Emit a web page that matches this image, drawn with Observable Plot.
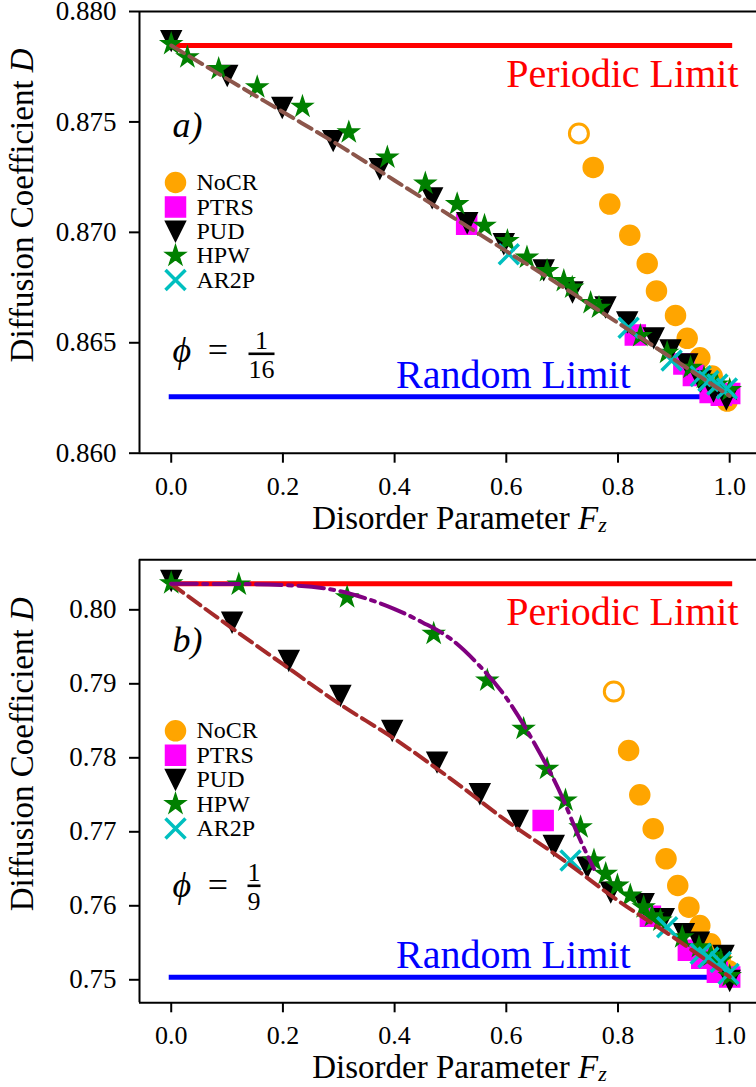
<!DOCTYPE html>
<html><head><meta charset="utf-8">
<script src="https://cdn.jsdelivr.net/npm/d3@7"></script>
<script src="https://cdn.jsdelivr.net/npm/@observablehq/plot@0.6"></script>
<style>
body{margin:0;background:#fff;}
#wrap{position:relative;width:756px;height:1087px;overflow:hidden;background:#fff;}
#wrap svg{position:absolute;left:0;}
</style></head><body><div id="wrap"></div>
<script>
// ---------- data ----------
const xTicks = [0, 0.2, 0.4, 0.6, 0.8, 1.0];
const topYTicks = [0.860, 0.865, 0.870, 0.875, 0.880];
const botYTicks = [0.75, 0.76, 0.77, 0.78, 0.79, 0.80];
const legendNames = ["NoCR", "PTRS", "PUD", "HPW", "AR2P"];
const limitX = [0, 1];

// panel a) phi = 1/16
const topPeriodic = 0.87846;
const topRandom = 0.86256;
const topNoCROpenX = [0.730];
const topNoCROpenY = [0.87448];
const topNoCRX = [0.7556, 0.7853, 0.8211, 0.8523, 0.8689, 0.9030, 0.9239, 0.9465, 0.9687, 0.9955];
const topNoCRY = [0.87294, 0.87128, 0.86987, 0.86859, 0.86735, 0.86624, 0.86520, 0.86432, 0.86349, 0.86236];
const topPTRSX = [0.529, 0.831, 0.918, 0.935, 0.965, 0.985, 1.0];
const topPTRSY = [0.87037, 0.86535, 0.86404, 0.86352, 0.86275, 0.86262, 0.86270];
const topPUDX = [0, 0.1003, 0.1988, 0.290, 0.3735, 0.4673, 0.530, 0.5955, 0.667, 0.7185, 0.7776, 0.8165, 0.864, 0.894, 0.924, 0.948, 0.971, 0.994];
const topPUDY = [0.87868, 0.87710, 0.87565, 0.87415, 0.87288, 0.87156, 0.87043, 0.86948, 0.86830, 0.86730, 0.86662, 0.86594, 0.86522, 0.86467, 0.86404, 0.86327, 0.86281, 0.86245];
const topHPWX = [0, 0.029, 0.085, 0.154, 0.235, 0.318, 0.387, 0.455, 0.512, 0.561, 0.602, 0.637, 0.673, 0.703, 0.718, 0.751, 0.766, 0.840, 0.888, 0.930, 0.954, 0.977, 1.0];
const topHPWY = [0.87853, 0.87793, 0.87740, 0.87657, 0.87569, 0.87453, 0.87339, 0.87221, 0.87128, 0.87030, 0.86961, 0.86886, 0.86825, 0.86780, 0.86750, 0.86680, 0.86659, 0.86531, 0.86455, 0.86387, 0.86342, 0.86311, 0.86286];
const topAR2PX = [0.6045, 0.819, 0.896, 0.948, 0.962, 0.978, 0.995];
const topAR2PY = [0.86901, 0.86568, 0.86420, 0.86349, 0.86327, 0.86311, 0.86293];
const topFitX = [0, 0.1, 0.2, 0.3, 0.4, 0.5, 0.6, 0.7, 0.8, 0.9, 1.0];
const topFitY = [0.87846, 0.87695, 0.87545, 0.87395, 0.87235, 0.87075, 0.86915, 0.86755, 0.86590, 0.86425, 0.86259];

// panel b) phi = 1/9
const botPeriodic = 0.80351;
const botRandom = 0.75035;
const botNoCROpenX = [0.7925];
const botNoCROpenY = [0.78896];
const botNoCRX = [0.819, 0.839, 0.863, 0.886, 0.907, 0.927, 0.9465, 0.9656, 0.9835, 0.998];
const botNoCRY = [0.78099, 0.77500, 0.77041, 0.76635, 0.76274, 0.75981, 0.75734, 0.75486, 0.75305, 0.75123];
const botPTRSX = [0.666, 0.858, 0.926, 0.950, 0.978, 1.0];
const botPTRSY = [0.77153, 0.75858, 0.75400, 0.75290, 0.75103, 0.75036];
const botPUDX = [0, 0.109, 0.2106, 0.303, 0.3957, 0.476, 0.5526, 0.6206, 0.685, 0.745, 0.787, 0.846, 0.882, 0.918, 0.945, 0.989, 1.0];
const botPUDY = [0.80396, 0.79832, 0.79315, 0.78842, 0.78369, 0.77941, 0.77514, 0.77153, 0.76815, 0.76522, 0.76184, 0.76027, 0.75824, 0.75622, 0.75508, 0.75328, 0.74991];
const botHPWX = [0, 0.121, 0.315, 0.470, 0.566, 0.631, 0.673, 0.706, 0.733, 0.757, 0.778, 0.799, 0.822, 0.846, 0.861, 0.876, 0.915, 0.945, 0.966, 0.984, 1.0];
const botHPWY = [0.80360, 0.80342, 0.80170, 0.79676, 0.79045, 0.78392, 0.77851, 0.77423, 0.77062, 0.76612, 0.76432, 0.76274, 0.76139, 0.75981, 0.75860, 0.75801, 0.75576, 0.75441, 0.75328, 0.75261, 0.75050];
const botAR2PX = [0.715, 0.888, 0.948, 0.962, 0.984, 0.998];
const botAR2PY = [0.76612, 0.75711, 0.75351, 0.75300, 0.75240, 0.75080];
const botFitX = [0, 0.1, 0.2, 0.3, 0.4, 0.5, 0.6, 0.7, 0.8, 0.9, 1.0];
const botFitY = [0.80350, 0.79800, 0.79265, 0.78735, 0.78255, 0.77720, 0.77150, 0.76630, 0.76070, 0.75570, 0.75040];
const botHPWFitX = [0, 0.1, 0.2, 0.3, 0.35, 0.4, 0.45, 0.5, 0.55, 0.6, 0.65, 0.7, 0.73, 0.757];
const botHPWFitY = [0.80351, 0.80350, 0.80335, 0.80255, 0.80150, 0.80010, 0.79830, 0.79610, 0.79260, 0.78810, 0.78200, 0.77470, 0.76930, 0.76500];

// ---------- helpers ----------
const zip = (xs, ys) => xs.map((x, i) => ({x, y: ys[i]}));
const FONT = "'Liberation Serif', 'DejaVu Serif', serif";
const colors = {NoCR: "#ffa500", PTRS: "#ff00ff", PUD: "#000000", HPW: "#008000", AR2P: "#00bfbf"};
const sqSym = {draw(c, size) {const s = Math.sqrt(size / Math.PI); c.rect(-s, -s, 2 * s, 2 * s);}};
const triSym = {draw(c, size) {const s = Math.sqrt(size / Math.PI); c.moveTo(-s, -s); c.lineTo(s, -s); c.lineTo(0, s); c.closePath();}};
const starSym = {draw(c, size) {
  const s = Math.sqrt(size / Math.PI) * 1.05, ri = s * 0.382;
  for (let i = 0; i < 10; i++) {
    const a = -Math.PI / 2 + i * Math.PI / 5, rr = i % 2 ? ri : s;
    const px = rr * Math.cos(a), py = rr * Math.sin(a);
    i ? c.lineTo(px, py) : c.moveTo(px, py);
  }
  c.closePath();
}};
const xSym = {draw(c, size) {const s = Math.sqrt(size / Math.PI); c.moveTo(-s, -s); c.lineTo(s, s); c.moveTo(-s, s); c.lineTo(s, -s);}};
const symbols = {NoCR: "circle", PTRS: sqSym, PUD: triSym, HPW: starSym, AR2P: xSym};

function markerOpts(name) {
  const c = colors[name];
  if (name === "AR2P") return {symbol: xSym, r: 10, fill: "none", stroke: c, strokeWidth: 3.5};
  return {symbol: symbols[name], r: 10, fill: c, stroke: c, strokeWidth: 1.5};
}

const X_DOMAIN = [-0.0568, 1.048];

function panel(cfg) {
  const series = cfg.series;
  const marks = [
    Plot.ruleX([X_DOMAIN[0]], {stroke: "black", strokeWidth: 2}),
    Plot.ruleY(cfg.yDomain, {stroke: "black", strokeWidth: 2}),
    Plot.line(limitX.map(x => ({x, y: cfg.periodic})), {x: "x", y: "y", stroke: "#ff0000", strokeWidth: 5, strokeLinecap: "square"}),
    Plot.line(limitX.map(x => ({x, y: cfg.random})), {x: "x", y: "y", stroke: "#0000ff", strokeWidth: 5, strokeLinecap: "square"}),
    Plot.dot(cfg.open, {x: "x", y: "y", r: 9.5, fill: "white", stroke: colors.NoCR, strokeWidth: 3}),
  ];
  for (const name of legendNames) {
    marks.push(Plot.dot(series[name], {x: "x", y: "y", ...markerOpts(name)}));
  }
  for (const f of cfg.fits) {
    marks.push(Plot.line(f.data, {x: "x", y: "y", stroke: f.color, strokeWidth: 4, strokeDasharray: f.dash, curve: "monotone-x"}));
  }
  legendNames.forEach((name, i) => {
    marks.push(Plot.dot([name], {frameAnchor: "top-left", dx: 36, dy: 171 + 24.4 * i, ...markerOpts(name)}));
    marks.push(Plot.text([name], {frameAnchor: "top-left", dx: 57, dy: 171 + 24.4 * i, text: d => d, textAnchor: "start", lineAnchor: "middle", fontSize: 24}));
  });
  marks.push(Plot.text([cfg.periodic], {y: d => d, frameAnchor: "right", dx: -18, dy: 41, text: () => "Periodic Limit", textAnchor: "end", lineAnchor: "bottom", fill: "#ff0000", fontSize: 40}));
  marks.push(Plot.text([cfg.random], {y: d => d, frameAnchor: "left", dx: 491, dy: -9, text: () => "Random Limit", textAnchor: "end", lineAnchor: "bottom", fill: "#0000ff", fontSize: 40}));
  marks.push(Plot.text([cfg.tag], {frameAnchor: "top-left", dx: 33, dy: cfg.tagDy, text: d => d, fontStyle: "italic", textAnchor: "start", lineAnchor: "bottom", fontSize: 36}));
  marks.push(Plot.text(["ϕ"], {frameAnchor: "top-left", dx: 33, dy: cfg.phiDy, text: d => d, fontStyle: "italic", textAnchor: "start", lineAnchor: "bottom", fontSize: 36}));
  marks.push(Plot.text(["="], {frameAnchor: "top-left", dx: 78.5, dy: cfg.phiDy, text: d => d, textAnchor: "middle", lineAnchor: "bottom", fontSize: 36}));
  marks.push(Plot.text(["1"], {frameAnchor: "top-left", dx: cfg.fracDx, dy: cfg.numDy, text: d => d, textAnchor: "middle", lineAnchor: "bottom", fontSize: 26}));
  marks.push(Plot.text([cfg.den], {frameAnchor: "top-left", dx: cfg.fracDx, dy: cfg.denDy, text: d => d, textAnchor: "middle", lineAnchor: "bottom", fontSize: 26}));
  marks.push(Plot.text(["Diffusion Coefficient "], {frameAnchor: "left", dx: -117, dy: -27, rotate: -90, text: d => d, textAnchor: "middle", lineAnchor: "middle", fontSize: 33}));
  marks.push(Plot.text(["Disorder Parameter "], {frameAnchor: "bottom", dx: 11.5, dy: 75.5, text: d => d, textAnchor: "middle", lineAnchor: "bottom", fontSize: 33}));
  marks.push(Plot.axisX(xTicks, {tickSize: 10, tickPadding: 13, tickFormat: d3.format(".1f"), strokeWidth: 2, fontSize: 26, label: null}));
  marks.push(Plot.axisY(cfg.yTicks, {tickSize: 10, tickPadding: 13, tickFormat: d3.format(cfg.yFmt), strokeWidth: 2, fontSize: 27, label: null}));

  const svg = Plot.plot({
    width: 756, height: cfg.height,
    marginTop: cfg.mTop, marginBottom: cfg.mBottom, marginLeft: 139, marginRight: 0,
    x: {domain: X_DOMAIN},
    y: {domain: cfg.yDomain},
    style: {fontFamily: FONT, fontSize: "27px", color: "black", background: "transparent", overflow: "visible"},
    marks
  });
  const s = d3.select(svg);
  const texts = s.selectAll("text");
  texts.filter(function() { return this.textContent.startsWith("Diffusion Coefficient"); })
    .append("tspan").attr("font-style", "italic").text("D");
  const xl = texts.filter(function() { return this.textContent.startsWith("Disorder Parameter"); });
  xl.append("tspan").attr("font-style", "italic").text("F");
  xl.append("tspan").attr("font-style", "italic").attr("font-size", 22).attr("dy", 3).text("z");
  texts.filter(function() { return this.textContent === cfg.den; })
    .attr("text-decoration", "overline").style("text-decoration", "overline");
  svg.style.top = cfg.top + "px";
  return svg;
}

const wrap = document.getElementById("wrap");
wrap.appendChild(panel({
  top: 0, height: 520, mTop: 11, mBottom: 67.3,
  yDomain: [0.860, 0.880], yTicks: topYTicks, yFmt: ".3f",
  periodic: topPeriodic, random: topRandom,
  open: zip(topNoCROpenX, topNoCROpenY),
  series: {
    NoCR: zip(topNoCRX, topNoCRY), PTRS: zip(topPTRSX, topPTRSY), PUD: zip(topPUDX, topPUDY),
    HPW: zip(topHPWX, topHPWY), AR2P: zip(topAR2PX, topAR2PY)
  },
  fits: [{data: zip(topFitX, topFitY), color: "#8c564b", dash: "14.8,6.4"}],
  tag: "a)", tagDy: 125,
  phiDy: 350, fracDx: 122, numDy: 337, denDy: 366, den: "16"
}));
wrap.appendChild(panel({
  top: 520, height: 567, mTop: 39.3, mBottom: 84.7,
  yDomain: [0.74689, 0.80676], yTicks: botYTicks, yFmt: ".2f",
  periodic: botPeriodic, random: botRandom,
  open: zip(botNoCROpenX, botNoCROpenY),
  series: {
    NoCR: zip(botNoCRX, botNoCRY), PTRS: zip(botPTRSX, botPTRSY), PUD: zip(botPUDX, botPUDY),
    HPW: zip(botHPWX, botHPWY), AR2P: zip(botAR2PX, botAR2PY)
  },
  fits: [
    {data: zip(botFitX, botFitY), color: "#a52a2a", dash: "14.8,6.4"},
    {data: zip(botHPWFitX, botHPWFitY), color: "#800080", dash: "25.6,6.4,4,6.4"}
  ],
  tag: "b)", tagDy: 92,
  phiDy: 336.7, fracDx: 114.5, numDy: 320.7, denDy: 349.7, den: "9"
}));
</script></body></html>
